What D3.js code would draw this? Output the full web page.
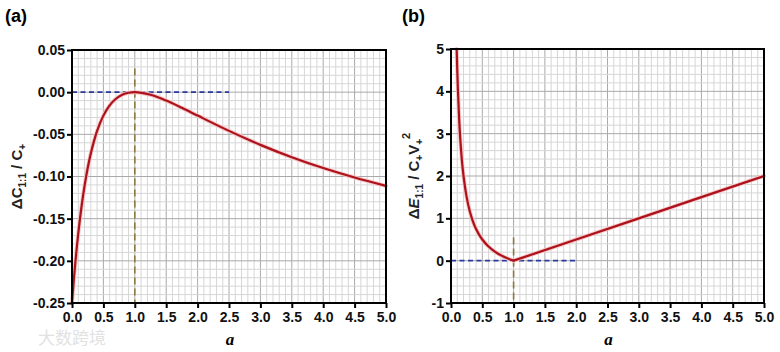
<!DOCTYPE html>
<html lang="en">
<head>
<meta charset="UTF-8">
<title>Two panels</title>
<script src="https://d3js.org/d3.v7.min.js"></script>
<style>
  body { margin: 0; background: #fff; }
  svg { display: block; }
  .tick text { font-family: "Liberation Sans", Arial, sans-serif; font-weight: bold; font-size: 14px; fill: #111; }
</style>
</head>
<body>
<div id="chart"></div>
<script>
const width = 780;
const height = 352;

// panel (a): a vs delta C / C+
const aValuesA = [0, 0.01, 0.02, 0.03, 0.05, 0.075, 0.1, 0.15, 0.2, 0.25, 0.3, 0.35, 0.4, 0.5, 0.6, 0.7, 0.8, 0.9, 1.0,
                  1.25, 1.5, 1.75, 2.0, 2.5, 3.0, 3.5, 4.0, 4.5, 5.0];
const deltaC = [-0.25, -0.2402, -0.2308, -0.2217, -0.2046, -0.1851, -0.1674, -0.1366, -0.1111, -0.09, -0.0725, -0.058, -0.0459,
                -0.0278, -0.0156, -0.0078, -0.0031, -0.0007, 0,
                -0.0031, -0.01, -0.0186, -0.0278, -0.0459, -0.0625, -0.0772, -0.09, -0.1012, -0.1111];

// panel (b): a vs delta E / C+V+^2 (left branch curved, right branch straight)
const aValuesB = [0.0909, 0.1, 0.11, 0.13, 0.15, 0.175, 0.2, 0.25, 0.3, 0.35, 0.4, 0.5, 0.6, 0.7, 0.8, 0.9, 1.0];
const deltaE = [5.0, 4.5, 4.045, 3.346, 2.833, 2.357, 2.0, 1.5, 1.167, 0.929, 0.75, 0.5, 0.333, 0.214, 0.125, 0.056, 0];
const aValuesB2 = [1.0, 2.0, 3.0, 4.0, 5.0];
const deltaE2 = [0, 0.5, 1.0, 1.5, 2.0];

const xTicks = [0, 0.5, 1, 1.5, 2, 2.5, 3, 3.5, 4, 4.5, 5];
const xTickLabels = ["0.0", "0.5", "1.0", "1.5", "2.0", "2.5", "3.0", "3.5", "4.0", "4.5", "5.0"];
const yTicksA = [0.05, 0, -0.05, -0.1, -0.15, -0.2, -0.25];
const yTickLabelsA = ["0.05", "0.00", "-0.05", "-0.10", "-0.15", "-0.20", "-0.25"];
const yTicksB = [5, 4, 3, 2, 1, 0, -1];
const yTickLabelsB = ["5", "4", "3", "2", "1", "0", "-1"];

const svg = d3.select("#chart").append("svg")
    .attr("width", width)
    .attr("height", height);

function drawPanel(opt) {
    const x = d3.scaleLinear().domain([0, 5]).range([opt.left, opt.right]);
    const y = d3.scaleLinear().domain(opt.yDomain).range([opt.bottom, opt.top]);
    const g = svg.append("g");

    // grid: minor every 0.1 on x, every step on y; darker at labelled ticks
    const xMinor = d3.range(0, 50.5, 1).map(d => d / 10);
    const yMinor = d3.range(0, opt.yMinorCount + 1).map(i => opt.yDomain[0] + i * opt.yMinorStep);
    g.selectAll(".vminor").data(xMinor).enter().append("line")
        .attr("x1", d => x(d)).attr("x2", d => x(d))
        .attr("y1", y.range()[0]).attr("y2", y.range()[1])
        .attr("stroke", d => Math.abs(d * 2 - Math.round(d * 2)) < 1e-6 ? "#a9a9a9" : "#d6d6d6")
        .attr("stroke-width", 1);
    g.selectAll(".hminor").data(yMinor).enter().append("line")
        .attr("x1", x.range()[0]).attr("x2", x.range()[1])
        .attr("y1", d => y(d)).attr("y2", d => y(d))
        .attr("stroke", (d, i) => i % 5 === 0 ? "#a9a9a9" : "#d6d6d6")
        .attr("stroke-width", 1);

    // reference dashed lines
    g.append("line")
        .attr("x1", x(0)).attr("x2", x(opt.hLineEnd))
        .attr("y1", y(0)).attr("y2", y(0))
        .attr("stroke", "#2b3a9c").attr("stroke-width", 1.6)
        .attr("stroke-dasharray", "5,3.5");
    g.append("line")
        .attr("x1", x(1)).attr("x2", x(1))
        .attr("y1", y(opt.vLineTop)).attr("y2", y(opt.yDomain[0]))
        .attr("stroke", "#8c7b3c").attr("stroke-width", 1.6)
        .attr("stroke-dasharray", "7,4");

    // curve(s)
    const line = d3.line()
        .x(d => x(d[0]))
        .y(d => y(d[1]))
        .curve(d3.curveMonotoneX);
    const straight = d3.line()
        .x(d => x(d[0]))
        .y(d => y(d[1]));
    opt.series.forEach(s => {
        const pts = s.xs.map((d, i) => [d, s.ys[i]]);
        const gen = s.straight ? straight : line;
        g.append("path").datum(pts)
            .attr("fill", "none").attr("stroke", "#f4c4c4").attr("stroke-width", 4)
            .attr("stroke-linecap", "round").attr("d", gen);
    });
    opt.series.forEach(s => {
        const pts = s.xs.map((d, i) => [d, s.ys[i]]);
        const gen = s.straight ? straight : line;
        g.append("path").datum(pts)
            .attr("fill", "none").attr("stroke", "#ad111b").attr("stroke-width", 2.2)
            .attr("stroke-linecap", "round").attr("d", gen);
    });

    // frame
    g.append("rect")
        .attr("x", opt.left).attr("y", opt.top)
        .attr("width", opt.right - opt.left).attr("height", opt.bottom - opt.top)
        .attr("fill", "none").attr("stroke", "#000").attr("stroke-width", 2);

    // axes
    const xAxis = g.append("g")
        .attr("transform", `translate(0,${opt.bottom})`)
        .call(d3.axisBottom(x).tickValues(xTicks).tickSize(5).tickPadding(4)
            .tickFormat((d, i) => xTickLabels[i]));
    const yAxis = g.append("g")
        .attr("transform", `translate(${opt.left},0)`)
        .call(d3.axisLeft(y).tickValues(opt.yTicks).tickSize(5).tickPadding(2)
            .tickFormat((d, i) => opt.yLabels[i]));
    [xAxis, yAxis].forEach(a => {
        a.select(".domain").remove();
        a.selectAll(".tick line").attr("stroke", "#000").attr("stroke-width", 2);
    });

    // x title
    g.append("text")
        .attr("x", (opt.left + opt.right) / 2 + 1)
        .attr("y", 345)
        .attr("text-anchor", "middle")
        .style("font-family", "'Liberation Serif', 'Times New Roman', serif")
        .style("font-style", "italic")
        .style("font-weight", "bold")
        .style("font-size", "17px")
        .text("a");

    // panel letter
    g.append("text")
        .attr("x", opt.letterX).attr("y", 22)
        .style("font-family", "'Liberation Sans', Arial, sans-serif")
        .style("font-weight", "bold")
        .style("font-size", "18px")
        .text(opt.letter);

    // y title
    const yt = g.append("text")
        .attr("transform", `translate(${opt.yTitleX},${(opt.top + opt.bottom) / 2}) rotate(-90)`)
        .attr("text-anchor", "middle")
        .style("font-family", "'Liberation Sans', Arial, sans-serif")
        .style("font-weight", "bold")
        .style("font-size", "15px")
        .attr("fill", "#222");
    opt.yTitle(yt);
}

function sub(t, s, shift) {
    t.append("tspan").attr("dy", shift).style("font-size", "10px").text(s);
}

drawPanel({
    left: 72, right: 386, top: 50, bottom: 303,
    yDomain: [-0.25, 0.05], yMinorStep: 0.01, yMinorCount: 30,
    yTicks: yTicksA, yLabels: yTickLabelsA,
    series: [{ xs: aValuesA, ys: deltaC }],
    hLineEnd: 2.5, vLineTop: 0.028,
    letter: "(a)", letterX: 5, yTitleX: 22,
    yTitle: t => {
        t.append("tspan").text("\u0394C");
        sub(t, "1:1", 4);
        t.append("tspan").attr("dy", -4).text(" / C");
        sub(t, "+", 4);
    }
});

drawPanel({
    left: 451, right: 764, top: 49, bottom: 303,
    yDomain: [-1, 5], yMinorStep: 0.2, yMinorCount: 30,
    yTicks: yTicksB, yLabels: yTickLabelsB,
    series: [{ xs: aValuesB, ys: deltaE }, { xs: aValuesB2, ys: deltaE2, straight: true }],
    hLineEnd: 2.0, vLineTop: 0.55,
    letter: "(b)", letterX: 402, yTitleX: 419,
    yTitle: t => {
        t.append("tspan").text("\u0394");
        t.append("tspan").style("font-style", "italic").text("E");
        sub(t, "1:1", 4);
        t.append("tspan").attr("dy", -4).text(" / C");
        sub(t, "+", 4);
        t.append("tspan").attr("dy", -4).text("V");
        sub(t, "+", 4);
        t.append("tspan").attr("dy", -13).style("font-size", "11px").text("2");
    }
});

// watermark
svg.append("text")
    .attr("x", 38).attr("y", 344)
    .style("font-family", "'Noto Sans CJK SC', sans-serif")
    .style("font-size", "17px")
    .attr("fill", "#e2e2e2")
    .text("大数跨境");
</script>
</body>
</html>
